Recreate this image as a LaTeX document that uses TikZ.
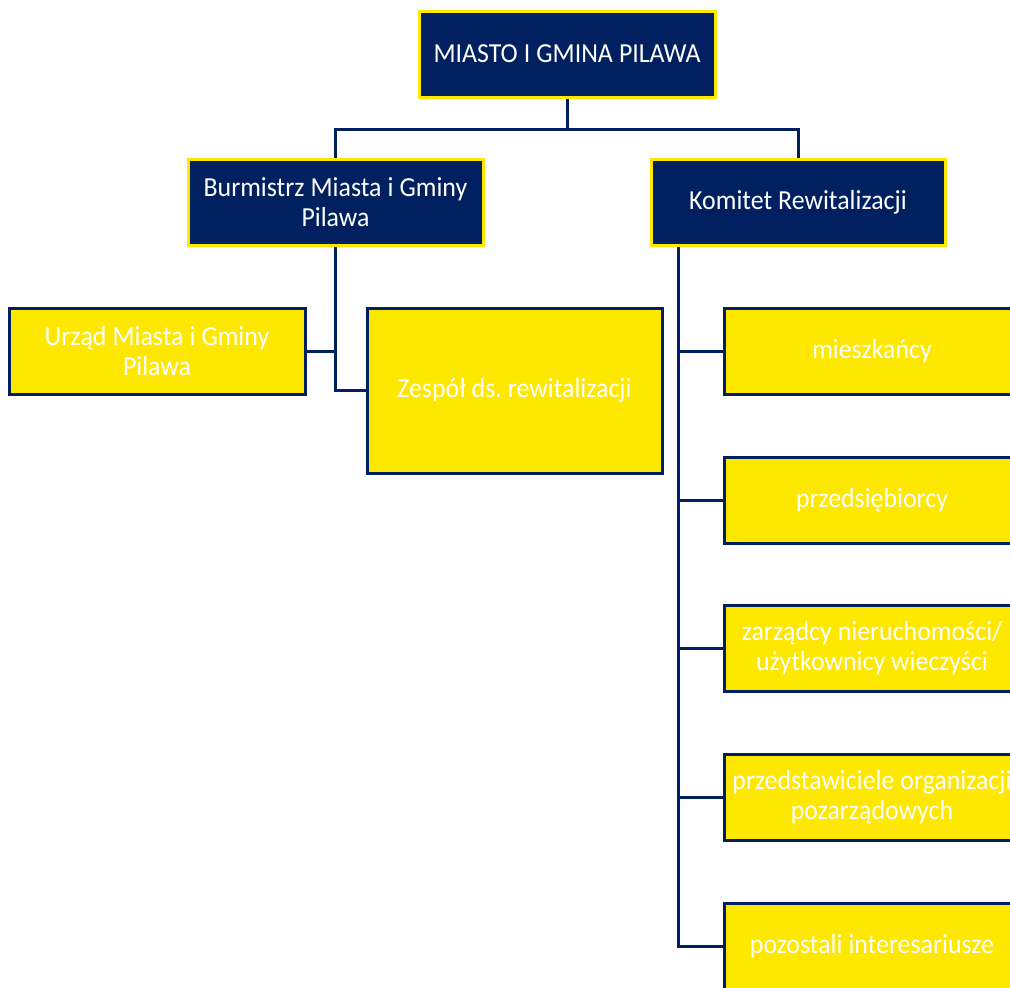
\documentclass[tikz,border=0pt]{standalone}
\usepackage{fontspec}
\setmainfont[FakeStretch=0.94]{Carlito}
\frenchspacing
\usetikzlibrary{calc}
\definecolor{navy}{HTML}{002060}
\definecolor{ylw}{HTML}{FFE800}
\newcommand\myboxfont{\fontsize{27.5}{30}\selectfont}
\newcommand\mytightspace{\spaceskip=0.22em\relax\xspaceskip=0.22em\relax}
\tikzset{
  x=1pt,y=-1pt,
  boxbase/.style={rectangle, inner sep=0pt, line width=3pt, align=center,
     font=\myboxfont, execute at begin node=\mytightspace},
  darkbox/.style={boxbase, fill=navy, draw=ylw, text=white},
  lightbox/.style={boxbase, fill=ylw, draw=navy, text=white},
  conn/.style={draw=navy, line width=3pt},
}
\begin{document}
\begin{tikzpicture}
\useasboundingbox (0,0) rectangle (1010,988);
\clip (0,0) rectangle (1010,988);
% boxes
\node[darkbox, minimum width=296, minimum height=86, text width=290] (top) at (567,54) {MIASTO I GMINA PILAWA};
\node[darkbox, minimum width=295, minimum height=86, text width=290] (bur) at (335.5,202) {Burmistrz Miasta i Gminy\\Pilawa};
\node[darkbox, minimum width=294, minimum height=86, text width=290] (kom) at (798,202) {Komitet Rewitalizacji};
\node[lightbox, minimum width=296, minimum height=86, text width=290] (urz) at (157,351) {Urząd Miasta i Gminy\\Pilawa};
\node[lightbox, minimum width=295, minimum height=165, text width=290] (zes) at (514.5,390.5) {Zespół ds. rewitalizacji};
\node[lightbox, minimum width=296, minimum height=86, text width=292] (r1) at (872,351) {mieszkańcy};
\node[lightbox, minimum width=296, minimum height=86, text width=292] (r2) at (872,500) {przedsiębiorcy};
\node[lightbox, minimum width=296, minimum height=86, text width=292] (r3) at (872,648) {zarządcy nieruchomości/\\użytkownicy wieczyści};
\node[lightbox, minimum width=296, minimum height=86, text width=292] (r4) at (872,797) {przedstawiciele organizacji\\pozarządowych};
\node[lightbox, minimum width=296, minimum height=86, text width=292] (r5) at (872,946) {pozostali interesariusze};
% connectors
\coordinate (tj) at ($(top.south)+(0,31)$);
\draw[conn] (top.south) -- (tj);
\draw[conn] (tj) -| (bur.north);
\draw[conn] (tj) -| (kom.north);
\draw[conn] (bur.south) |- (urz.east);
\draw[conn] (bur.south) |- (zes.west);
\coordinate (kl) at ([xshift=29]kom.south west);
\draw[conn] (kl) |- (r5.west);
\draw[conn] (kl |- r1.west) -- (r1.west);
\draw[conn] (kl |- r2.west) -- (r2.west);
\draw[conn] (kl |- r3.west) -- (r3.west);
\draw[conn] (kl |- r4.west) -- (r4.west);
\end{tikzpicture}
\end{document}
